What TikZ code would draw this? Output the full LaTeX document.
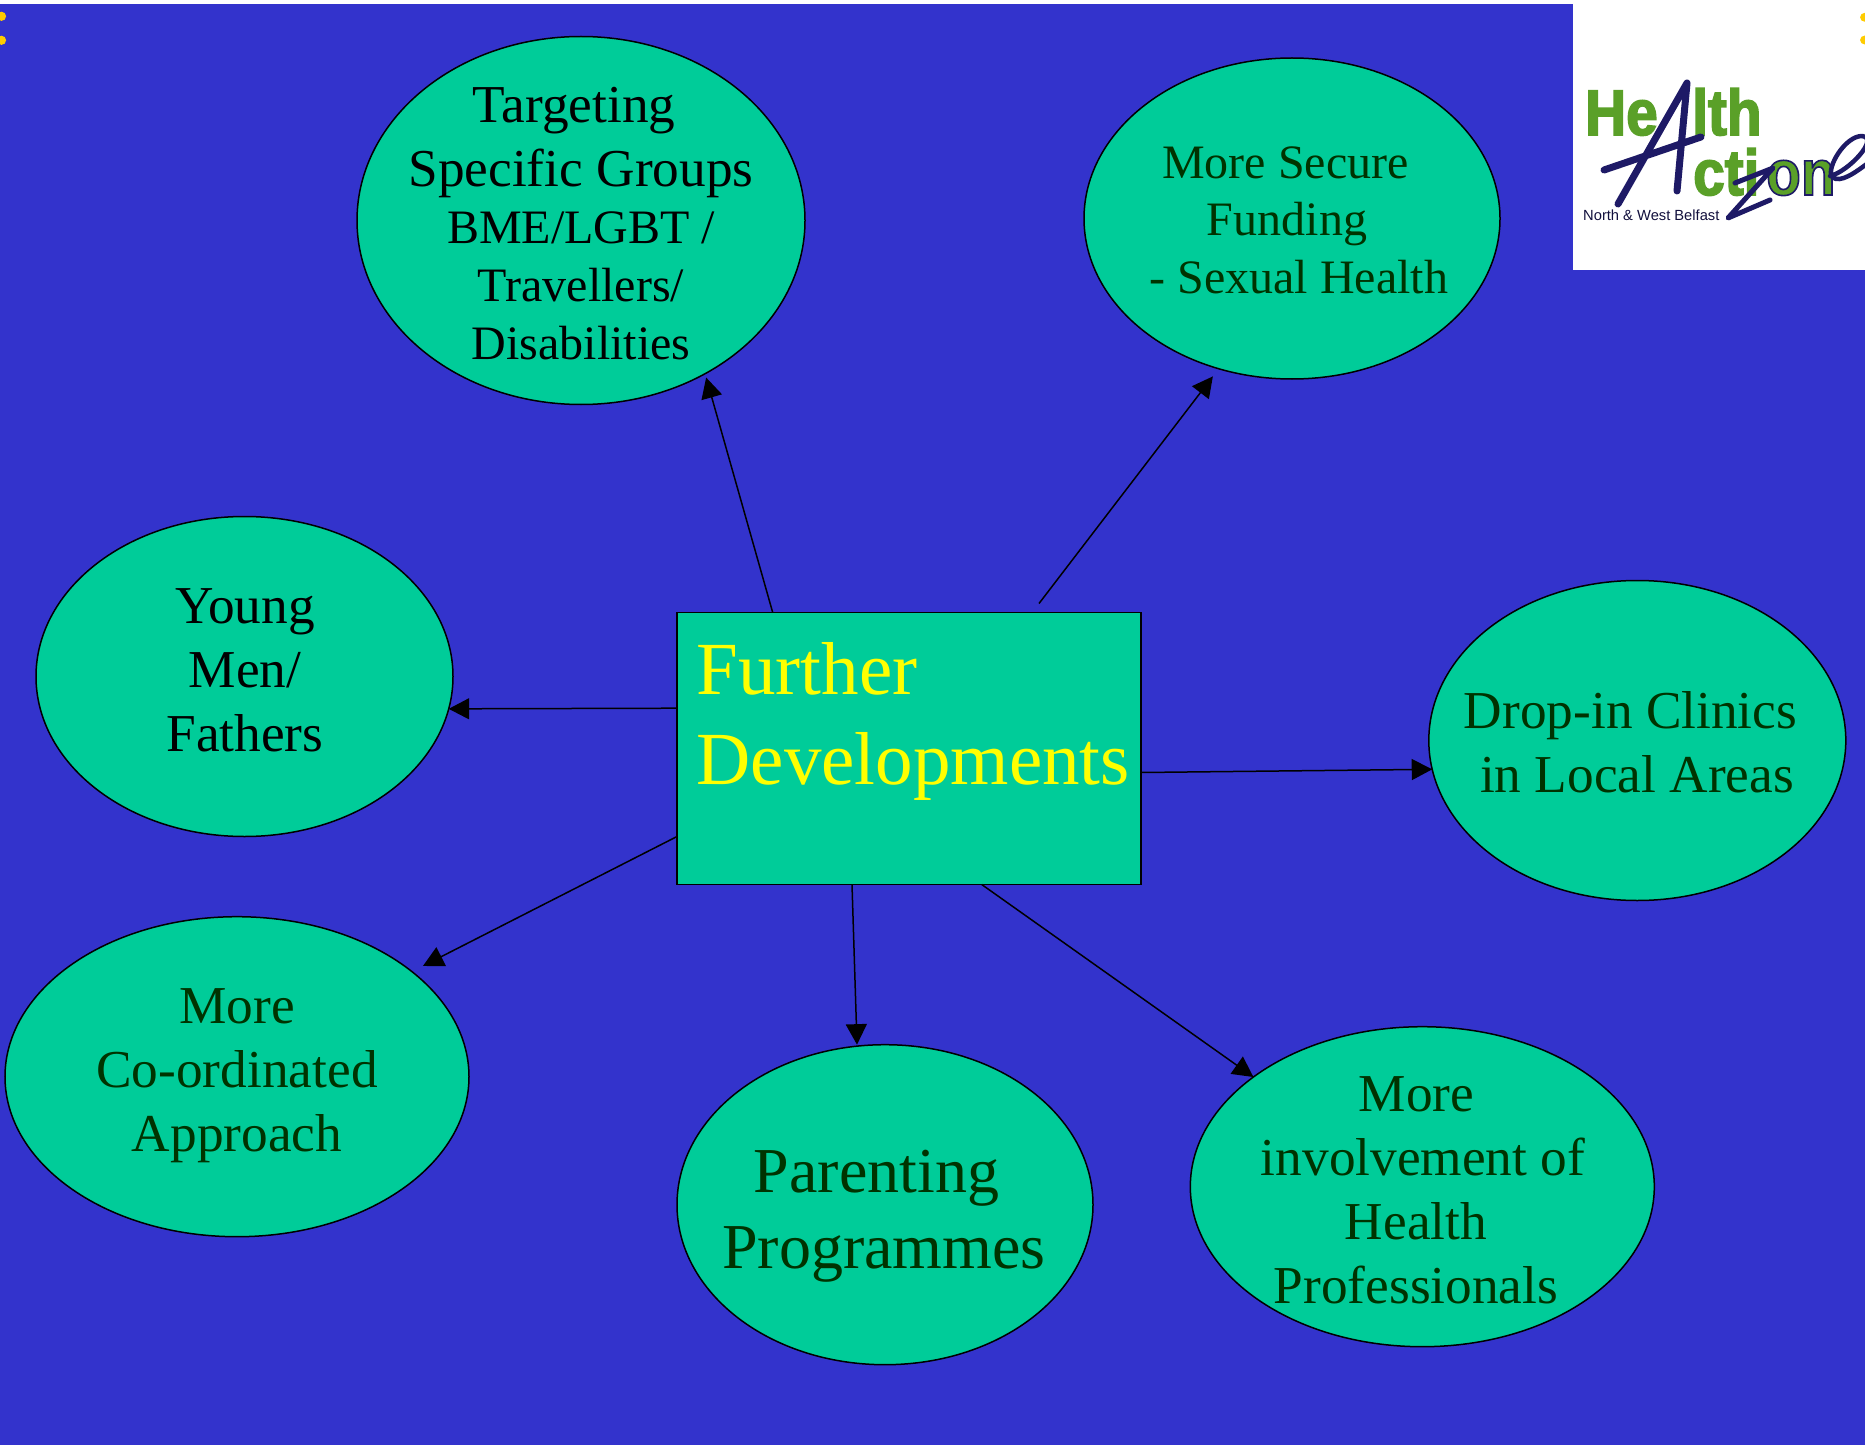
\documentclass[tikz,border=0pt]{standalone}
\usepackage{fontspec}
\setmainfont{Liberation Serif}
\newfontfamily\logofont{Liberation Sans}
\newfontfamily\logoheavy{Liberation Sans}[UprightFont=* Bold,FakeStretch=0.88,FakeBold=2.5]
\usetikzlibrary{shapes.geometric,arrows.meta}
\definecolor{slideblue}{HTML}{3333CC}
\definecolor{slidegreen}{HTML}{00CC99}
\definecolor{slideyellow}{HTML}{FFFF00}
\definecolor{bulletyellow}{HTML}{FFCC00}
\definecolor{darktext}{HTML}{003300}
\definecolor{logogreen}{HTML}{5AA028}
\definecolor{logonavy}{HTML}{1E1A66}
\newcommand{\movedline}[2]{\leavevmode\kern#1pt\relax #2\kern-#1pt\relax}
\newcommand{\navyedge}[1]{\special{pdf:code q 0.118 0.102 0.4 RG}#1\special{pdf:code Q}}
\tikzset{
  idea/.style={ellipse,draw=black,fill=slidegreen,line width=1.5pt,inner sep=0pt,outer sep=0pt},
  ideatext/.style={inner sep=0pt,align=center,font=\fontsize{53.3}{64}\selectfont},
  link/.style={draw=black,line width=1.5pt,-{Triangle[length=20.5pt,width=21pt]}},
  logoword/.style={font=\logoheavy\fontsize{64.5}{64.5}\selectfont,text=logogreen,inner sep=0pt,anchor=base west},
  logopen/.style={draw=logonavy,line width=7pt,line cap=round,line join=round}
}
\begin{document}
\begin{tikzpicture}[x=1pt,y=-1pt]
  \path[use as bounding box,fill=white] (0,0) rectangle (1865,1447);
  \path[fill=slideblue] (0,4) rectangle (1865,1445);
  \path[fill=white] (1573,0) rectangle (1865,270.5);
  % bullets cut off at the edges
  \path[fill=bulletyellow] (1.5,16.3) circle (4.6) (1.5,40.3) circle (4.6);
  \path[fill=bulletyellow] (1864.5,17.3) circle (4.4) (1864.5,40) circle (4.4);
  % logo
  \node[logoword] (logohe) at (1585,135) {He};
  \node[logoword] (logolth) at (1692,135) {lth};
  \node[logoword] (logoct) at (1693,195) {cti};
  \node[logoword] (logoon) at (1766,195) {\navyedge{on}};
  \path[logopen] (1687,83) -- (1618,204) (1687,83) -- (1677,191) (1604,170) -- (1701,137);
  \path[logopen,line width=5pt] (1735,183) -- (1773,168) -- (1728,218) -- (1770,200);
  \path[logopen,line width=4.5pt] (1830,176) .. controls (1848,172) and (1880,138) .. (1862,136) .. controls (1845,136) and (1826,168) .. (1832,177) .. controls (1840,184) and (1856,172) .. (1868,163);
  \node[font=\logofont\fontsize{14.7}{14.7}\selectfont,text=logonavy!60!black,anchor=base west,inner sep=0pt] (logotext) at (1583,221) {North \& West Belfast};
  % centre box
  \node[draw=black,fill=slidegreen,line width=1.5pt,outer sep=0pt,minimum width=464pt,minimum height=272pt] (further) at (909,748.5) {};
  \node[text=slideyellow,anchor=base west,inner sep=0pt,align=left,font=\fontsize{75}{90}\selectfont] (furthertext) at (696.5,784) {Further\\Developments};
  % ellipses
  \node[idea,minimum width=448pt,minimum height=368pt] (targeting) at (581,220.5) {};
  \node[idea,minimum width=416pt,minimum height=321pt] (secure) at (1292,218.5) {};
  \node[idea,minimum width=417pt,minimum height=320pt] (young) at (244.5,676.5) {};
  \node[idea,minimum width=417pt,minimum height=320pt] (dropin) at (1637.3,740.5) {};
  \node[idea,minimum width=464pt,minimum height=320pt] (coordinated) at (237,1076.7) {};
  \node[idea,minimum width=416pt,minimum height=320pt] (parenting) at (885,1204.7) {};
  \node[idea,minimum width=464pt,minimum height=320pt] (involvement) at (1422.3,1186.7) {};
  % their texts
  \node[ideatext] (targetingtop) at (581,143) {\movedline{-7}{Targeting}\\Specific Groups};
  \node[ideatext,font=\fontsize{48}{58}\selectfont] (targetingrest) at (581,285.5) {BME/LGBT /\\Travellers/\\Disabilities};
  \node[ideatext,text=darktext,anchor=base,font=\fontsize{48}{57.5}\selectfont] (securetext) at (1292,293) {\movedline{-6.5}{More Secure}\\\movedline{-5}{Funding}\\\movedline{7}{- Sexual Health}};
  \node[ideatext] (youngtext) at (245,670) {Young\\Men/\\Fathers};
  \node[ideatext,text=darktext] (dropintext) at (1637,742.5) {\movedline{-6.5}{Drop-in Clinics}\\in Local Areas};
  \node[ideatext,text=darktext] (coordinatedtext) at (237,1076) {More\\Co-ordinated\\Approach};
  \node[ideatext,text=darktext,font=\fontsize{64}{76}\selectfont] (parentingtext) at (884,1216) {\movedline{-7.5}{Parenting}\\Programmes};
  \node[ideatext,text=darktext] (involvementtext) at (1423,1190) {\movedline{-6.5}{More}\\involvement of\\\movedline{-7}{Health}\\\movedline{-7}{Professionals}};
  % connectors
  \coordinate (securestart) at (1039,603.5);
  \draw[link,shorten >=4pt] ([xshift=-136.3pt]further.north) -- (targeting.-51.5);
  \draw[link,shorten >=9.7pt] (securestart) -- (secure.-116.4);
  \draw[link] ([yshift=40.3pt]further.west) -- (young.-9.4);
  \draw[link] ([yshift=-24pt]further.east) -- (dropin.188.1);
  \draw[link,shorten >=12.4pt] ([yshift=-88pt]further.west) -- (coordinated.31.5);
  \draw[link,shorten >=1.5pt] ([xshift=-57pt]further.south) -- (parenting.100);
  \draw[link] ([xshift=72.7pt]further.south) -- (involvement.147);
\end{tikzpicture}
\end{document}
